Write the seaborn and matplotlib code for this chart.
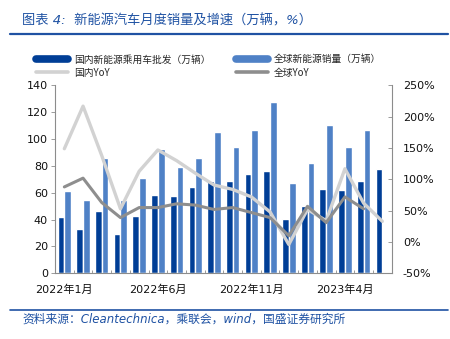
import numpy as np
import pandas as pd
import matplotlib
matplotlib.use("Agg")
import matplotlib.pyplot as plt
import seaborn as sns
from matplotlib.lines import Line2D
from matplotlib.ticker import FuncFormatter, FixedLocator

# ---------------- data ----------------
months = ["2022年1月", "2022年2月", "2022年3月", "2022年4月", "2022年5月", "2022年6月",
          "2022年7月", "2022年8月", "2022年9月", "2022年10月", "2022年11月", "2022年12月",
          "2023年1月", "2023年2月", "2023年3月", "2023年4月", "2023年5月", "2023年6月"]
domestic_sales = [42, 33, 46.5, 29, 43, 58, 57.5, 64.5, 69, 69, 74, 76.5,
                  40.5, 50.5, 63, 62, 68.5, 77.5]
global_sales = [61, 55, 86, 55, 71, 92.5, 79, 86, 105, 94.5, 107, 127.5,
                67, 82.5, 110.5, 94, 107, np.nan]
domestic_yoy = [149, 217, 138, 53, 113, 147, 130, 110, 91, 84, 72, 48,
                -4, 52, 34, 117, 62, 33]
global_yoy = [88, 102, 63, 39, 55, 55, 61, 59, 52, 55, 47, 39,
              10, 57, 31, 72, 53, np.nan]
tick_labels = ["2022年1月", "2022年6月", "2022年11月", "2023年4月"]
series_names = ["国内新能源乘用车批发（万辆）", "全球新能源销量（万辆）", "国内YoY", "全球YoY"]
title_text = "图表 4:  新能源汽车月度销量及增速（万辆，%）"
source_text = "资料来源：Cleantechnica，乘联会，wind，国盛证券研究所"

# ---------------- style ----------------
c_dark = "#003E96"
c_light = "#4F81C6"
c_yoy_dom = "#D2D2D2"
c_yoy_glob = "#8E8E8E"
c_text_blue = "#1F52A3"
c_spine = "#8C8C8C"

sns.set_theme(style="white")
plt.rcParams["font.family"] = ["DejaVu Sans", "Noto Sans CJK SC"]
cjk = ["Noto Sans CJK SC", "DejaVu Sans"]
lat_cjk = ["DejaVu Sans", "Noto Sans CJK SC"]

fig = plt.figure(figsize=(4.5, 3.39), dpi=100)
ax = fig.add_axes([0.1222, 0.1938, 0.7482, 0.554])

bars_df = pd.DataFrame({
    "month": months * 2,
    "series": [series_names[0]] * len(months) + [series_names[1]] * len(months),
    "value": domestic_sales + global_sales,
})
sns.barplot(data=bars_df, x="month", y="value", hue="series", order=months,
            hue_order=series_names[:2], palette=[c_dark, c_light], saturation=1,
            width=0.72, legend=False, ax=ax, errorbar=None)

ax.set_ylim(0, 140)
ax.set_yticks(np.arange(0, 141, 20))
ax.set_xlim(-0.5, len(months) - 0.5)
ax.set_xlabel("")
ax.set_ylabel("")

ax2 = ax.twinx()
idx = np.arange(len(months))
line_df = pd.DataFrame({"x": idx, "dom": domestic_yoy, "glob": global_yoy})
sns.lineplot(data=line_df, x="x", y="dom", color=c_yoy_dom, lw=2.4, ax=ax2)
sns.lineplot(data=line_df, x="x", y="glob", color=c_yoy_glob, lw=2.2, ax=ax2)
ax2.set_ylim(-50, 250)
ax2.set_yticks(np.arange(-50, 251, 50))
ax2.yaxis.set_major_formatter(FuncFormatter(lambda v, p: f"{v:.0f}%"))
ax2.set_xlabel("")
ax2.set_ylabel("")
ax.set_xlim(-0.5, len(months) - 0.5)

# x ticks: labels every 5 months, small inward marks at category boundaries
pos = [months.index(t) for t in tick_labels]
ax.xaxis.set_major_locator(FixedLocator(pos))
ax.set_xticklabels(tick_labels, fontsize=8, color="#111111")
ax.xaxis.set_minor_locator(FixedLocator(np.arange(-0.5, len(months), 1.0)))
ax.tick_params(axis="x", which="major", length=0, pad=8)
ax.tick_params(axis="x", which="minor", bottom=True, direction="in", length=2.5,
               color=c_spine, width=0.6)
ax.tick_params(axis="y", left=True, direction="out", length=3, width=0.6,
               color=c_spine, labelsize=8, labelcolor="#111111", pad=2)
ax2.tick_params(axis="y", right=True, direction="in", length=3, width=0.6,
                color=c_spine, labelsize=8, labelcolor="#111111", pad=8)

for a in (ax, ax2):
    a.spines["top"].set_visible(False)
    for s in ("left", "right", "bottom"):
        a.spines[s].set_color(c_spine)
        a.spines[s].set_linewidth(0.8)
ax.spines["right"].set_visible(False)
ax2.spines["left"].set_visible(False)
ax2.spines["bottom"].set_visible(False)

# legend
handles = [
    Line2D([], [], color=c_dark, lw=5.5, solid_capstyle="round"),
    Line2D([], [], color=c_yoy_dom, lw=2.6),
    Line2D([], [], color=c_light, lw=5.5, solid_capstyle="round"),
    Line2D([], [], color=c_yoy_glob, lw=2.6),
]
labels = [series_names[0], series_names[2], series_names[1], series_names[3]]
fig.legend(handles, labels, ncol=2, loc="upper left", bbox_to_anchor=(0.072, 0.851),
           frameon=False, prop={"family": cjk, "size": 7}, handlelength=3.3,
           handletextpad=0.6, columnspacing=2.6, labelspacing=0.35, borderaxespad=0)

# title and source
fig.text(0.049, 0.938, title_text, fontsize=9.5, color=c_text_blue, style="italic",
         family=lat_cjk, va="center", ha="left")
fig.add_artist(Line2D([0.022, 0.996], [0.901, 0.901], color=c_text_blue, lw=1.6))
fig.add_artist(Line2D([0.022, 0.996], [0.0855, 0.0855], color=c_text_blue, lw=1.2))
fig.text(0.049, 0.0575, source_text, fontsize=8.5, color=c_text_blue, style="italic",
         family=lat_cjk, va="center", ha="left")

fig.savefig("out.png", dpi=100)
